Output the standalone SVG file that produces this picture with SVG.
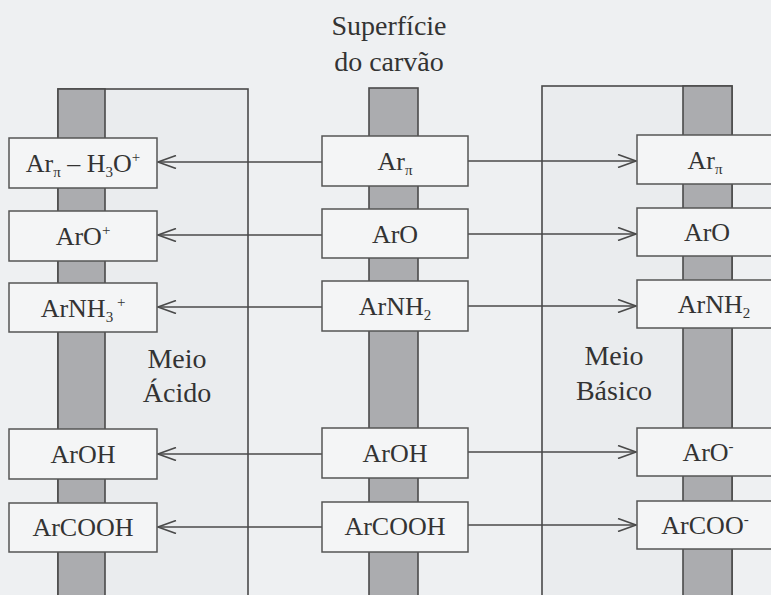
<svg xmlns="http://www.w3.org/2000/svg" width="771" height="595" viewBox="0 0 771 595">
<defs>
<marker id="ah" viewBox="0 0 20 14" refX="19" refY="7" markerWidth="20" markerHeight="14" markerUnits="userSpaceOnUse" orient="auto">
<path d="M1,0.5 L19,7 L1,13.5" fill="none" stroke="#4a4a4a" stroke-width="1.6"/>
</marker>
<style>
.bg{fill:#eef0f2}
.panel{fill:#eaecee;stroke:#4a4a4a;stroke-width:1.6}
.stripe{fill:#abacaf;stroke:#4a4a4a;stroke-width:1.6}
.box{fill:#f4f5f6;stroke:#555;stroke-width:1.5}
.t{font-family:'Liberation Serif','Times New Roman',serif;font-size:26px;fill:#333;text-anchor:middle}
.lbl{font-family:'Liberation Serif','Times New Roman',serif;font-size:28px;fill:#333;text-anchor:middle}
.conn line{stroke:#4a4a4a;stroke-width:1.6}
</style>
</defs>
<rect class="bg" x="0" y="0" width="771" height="595"/>

<!-- panels -->
<rect class="panel" x="58" y="89" width="190" height="520"/>
<rect class="stripe" x="58" y="89" width="47" height="520"/>
<rect class="stripe" x="369" y="88" width="49" height="520"/>
<rect class="panel" x="542" y="86" width="190" height="520"/>
<rect class="stripe" x="683" y="86" width="49" height="520"/>

<!-- labels -->
<g font-family="Liberation Serif, Times New Roman, serif">
<text class="lbl" x="389" y="35">Superfície</text>
<text class="lbl" x="389" y="71">do carvão</text>
<text class="lbl" x="177" y="368">Meio</text>
<text class="lbl" x="177" y="402">Ácido</text>
<text class="lbl" x="614" y="365">Meio</text>
<text class="lbl" x="614" y="400">Básico</text>
</g>

<!-- connectors -->
<g class="conn" id="connectors">
<line x1="322" y1="162" x2="158" y2="162" marker-end="url(#ah)"/>
<line x1="468" y1="161" x2="636" y2="161" marker-end="url(#ah)"/>
<line x1="322" y1="235" x2="158" y2="235" marker-end="url(#ah)"/>
<line x1="468" y1="234" x2="636" y2="234" marker-end="url(#ah)"/>
<line x1="322" y1="307" x2="158" y2="307" marker-end="url(#ah)"/>
<line x1="468" y1="306" x2="636" y2="306" marker-end="url(#ah)"/>
<line x1="322" y1="454" x2="158" y2="454" marker-end="url(#ah)"/>
<line x1="468" y1="452" x2="636" y2="452" marker-end="url(#ah)"/>
<line x1="322" y1="527" x2="158" y2="527" marker-end="url(#ah)"/>
<line x1="468" y1="525" x2="636" y2="525" marker-end="url(#ah)"/>
</g>

<!-- left column -->
<g id="acid-arpi"><rect class="box" x="9" y="138" width="148" height="50"/>
<text class="t" x="83" y="172">Ar<tspan font-size="15" dy="5">π</tspan><tspan dy="-5"> – H</tspan><tspan font-size="15" dy="5">3</tspan><tspan dy="-5">O</tspan><tspan font-size="15" dy="-10">+</tspan></text></g>
<g id="acid-aro"><rect class="box" x="9" y="211" width="148" height="50"/>
<text class="t" x="83" y="245">ArO<tspan font-size="15" dy="-10">+</tspan></text></g>
<g id="acid-arnh3"><rect class="box" x="9" y="283" width="148" height="49"/>
<text class="t" x="83" y="317">ArNH<tspan font-size="15" dy="5">3</tspan><tspan font-size="15" dy="-15"> +</tspan></text></g>
<g id="acid-aroh"><rect class="box" x="9" y="429" width="148" height="50"/>
<text class="t" x="83" y="463">ArOH</text></g>
<g id="acid-arcooh"><rect class="box" x="9" y="503" width="148" height="49"/>
<text class="t" x="83" y="536">ArCOOH</text></g>

<!-- center column -->
<g id="surf-arpi"><rect class="box" x="322" y="136" width="146" height="50"/>
<text class="t" x="395" y="170">Ar<tspan font-size="15" dy="5">π</tspan></text></g>
<g id="surf-aro"><rect class="box" x="322" y="209" width="146" height="49"/>
<text class="t" x="395" y="243">ArO</text></g>
<g id="surf-arnh2"><rect class="box" x="322" y="281" width="146" height="50"/>
<text class="t" x="395" y="315">ArNH<tspan font-size="15" dy="5">2</tspan></text></g>
<g id="surf-aroh"><rect class="box" x="322" y="428" width="146" height="50"/>
<text class="t" x="395" y="462">ArOH</text></g>
<g id="surf-arcooh"><rect class="box" x="322" y="502" width="146" height="50"/>
<text class="t" x="395" y="535">ArCOOH</text></g>

<!-- right column -->
<g id="base-arpi"><rect class="box" x="637" y="135" width="140" height="49"/>
<text class="t" x="705" y="169">Ar<tspan font-size="15" dy="5">π</tspan></text></g>
<g id="base-aro"><rect class="box" x="637" y="208" width="140" height="48"/>
<text class="t" x="707" y="241">ArO</text></g>
<g id="base-arnh2"><rect class="box" x="637" y="280" width="140" height="48"/>
<text class="t" x="714" y="313">ArNH<tspan font-size="15" dy="5">2</tspan></text></g>
<g id="base-aro-minus"><rect class="box" x="637" y="428" width="140" height="48"/>
<text class="t" x="708" y="461">ArO<tspan font-size="15" dy="-10">-</tspan></text></g>
<g id="base-arcoo-minus"><rect class="box" x="637" y="501" width="140" height="48"/>
<text class="t" x="705" y="534">ArCOO<tspan font-size="15" dy="-10">-</tspan></text></g>
</svg>
